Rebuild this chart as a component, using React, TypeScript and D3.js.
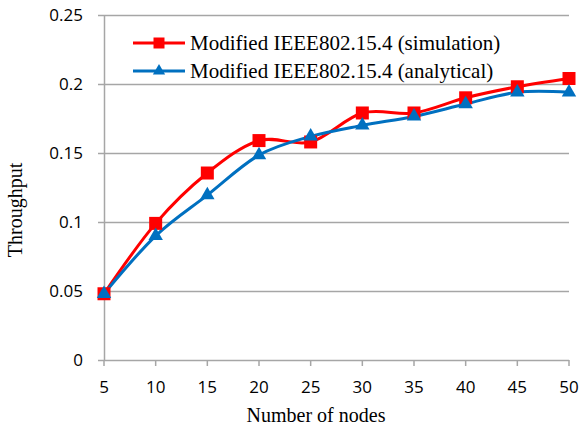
import React, { useEffect, useRef } from 'react';
import * as d3 from 'd3';

const nodes = [5, 10, 15, 20, 25, 30, 35, 40, 45, 50];
const simulation = [0.048, 0.099, 0.1355, 0.159, 0.158, 0.179, 0.179, 0.19, 0.198, 0.204];
const analytical = [0.048, 0.09, 0.1195, 0.1485, 0.162, 0.17, 0.1765, 0.1855, 0.194, 0.194];
const yTicks = [0, 0.05, 0.1, 0.15, 0.2, 0.25];
const seriesNames = [
  'Modified IEEE802.15.4 (simulation)',
  'Modified IEEE802.15.4 (analytical)',
];

const App: React.FC = () => {
  const svgRef = useRef<SVGSVGElement>(null);

  useEffect(() => {
    if (!svgRef.current) return;
    const svg = d3.select(svgRef.current);
    svg.selectAll('*').remove();

    const left = 104, right = 569, top = 15, bottom = 360;
    const x = d3.scaleLinear().domain([5, 50]).range([left, right]);
    const y = d3.scaleLinear().domain([0, 0.25]).range([bottom, top]);
    const tickFont = '"Open Sans", sans-serif';
    const serif = '"Liberation Serif", "DejaVu Serif", serif';
    const grid = '#a6a6a6';

    // gridlines
    svg.append('g')
      .selectAll('line')
      .data(yTicks)
      .enter()
      .append('line')
      .attr('x1', left - 6)
      .attr('x2', right)
      .attr('y1', d => y(d) + 0.5)
      .attr('y2', d => y(d) + 0.5)
      .attr('stroke', grid)
      .attr('stroke-width', 1.5);

    svg.append('line')
      .attr('x1', left + 0.5).attr('x2', left + 0.5)
      .attr('y1', top).attr('y2', bottom)
      .attr('stroke', grid).attr('stroke-width', 1.5);

    svg.append('g')
      .selectAll('line')
      .data(nodes)
      .enter()
      .append('line')
      .attr('x1', d => x(d))
      .attr('x2', d => x(d))
      .attr('y1', bottom)
      .attr('y2', bottom + 6)
      .attr('stroke', grid)
      .attr('stroke-width', 1.5);

    svg.append('g')
      .selectAll('text')
      .data(yTicks)
      .enter()
      .append('text')
      .attr('x', 83)
      .attr('y', d => y(d))
      .attr('dy', '0.36em')
      .attr('text-anchor', 'end')
      .attr('font-family', tickFont)
      .attr('font-size', 17)
      .attr('fill', '#000')
      .text(d => (d === 0 ? '0' : String(d)));

    svg.append('g')
      .selectAll('text')
      .data(nodes)
      .enter()
      .append('text')
      .attr('x', d => x(d))
      .attr('y', 387)
      .attr('dy', '0.36em')
      .attr('text-anchor', 'middle')
      .attr('font-family', tickFont)
      .attr('font-size', 17)
      .attr('fill', '#000')
      .text(d => String(d));

    // axis titles
    svg.append('text')
      .attr('transform', 'translate(22,210) rotate(-90)')
      .attr('text-anchor', 'middle')
      .attr('font-family', serif)
      .attr('font-size', 20)
      .text('Throughput');

    svg.append('text')
      .attr('x', 316)
      .attr('y', 422)
      .attr('text-anchor', 'middle')
      .attr('font-family', serif)
      .attr('font-size', 20)
      .text('Number of nodes');

    const line = d3.line<number>()
      .x((d, i) => x(nodes[i]))
      .y(d => y(d))
      .curve(d3.curveCatmullRom.alpha(0));

    const colors = ['#ff0000', '#0070c0'];
    const series = [simulation, analytical];
    const square = d3.symbol().type(d3.symbolSquare).size(169);
    const triangle = d3.symbol().type(d3.symbolTriangle).size(90);
    const legSquare = d3.symbol().type(d3.symbolSquare).size(121);
    const legTriangle = d3.symbol().type(d3.symbolTriangle).size(65);

    series.forEach((vals, si) => {
      svg.append('path')
        .attr('d', line(vals)!)
        .attr('fill', 'none')
        .attr('stroke', colors[si])
        .attr('stroke-width', 3);
    });

    series.forEach((vals, si) => {
      svg.append('g')
        .selectAll('path')
        .data(vals)
        .enter()
        .append('path')
        .attr('d', si === 0 ? square()! : triangle()!)
        .attr('transform', (d, i) => `translate(${x(nodes[i])},${y(d)})`)
        .attr('fill', colors[si]);
    });

    // legend
    const legend = svg.append('g');
    seriesNames.forEach((name, si) => {
      const ly = 43 + si * 28;
      legend.append('line')
        .attr('x1', 133).attr('x2', 185)
        .attr('y1', ly).attr('y2', ly)
        .attr('stroke', colors[si])
        .attr('stroke-width', 3);
      legend.append('path')
        .attr('d', si === 0 ? legSquare()! : legTriangle()!)
        .attr('transform', `translate(159,${ly})`)
        .attr('fill', colors[si]);
      legend.append('text')
        .attr('x', 190)
        .attr('y', ly)
        .attr('dy', '0.33em')
        .attr('font-family', serif)
        .attr('font-size', 21)
        .text(name);
    });
  }, []);

  return (
    <svg
      ref={svgRef}
      width={582}
      height={432}
      style={{ position: 'absolute', left: 0, top: 0, background: '#fff' }}
    />
  );
};

export default App;
